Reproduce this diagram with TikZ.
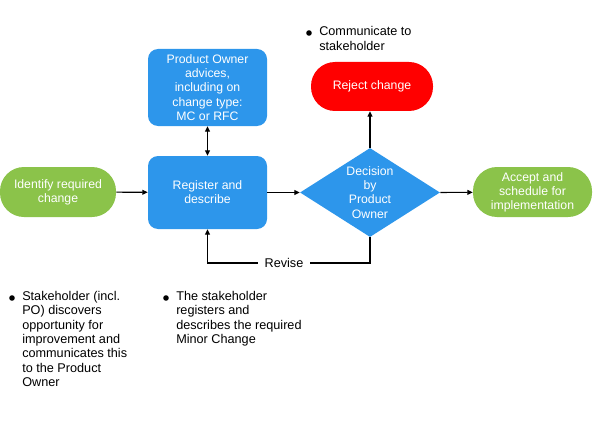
\documentclass[tikz,border=0pt]{standalone}
\usepackage{fontspec}
\setmainfont{Liberation Sans}
\usetikzlibrary{shapes.geometric,arrows.meta}
\definecolor{boxblue}{RGB}{45,150,235}
\definecolor{boxgreen}{RGB}{139,195,74}
\definecolor{boxred}{RGB}{255,0,0}
\tikzset{
  base/.style={text=white, font=\fontsize{9.2}{10.6}\selectfont, align=center, inner sep=0pt},
  bluebox/.style={base, fill=boxblue, rounded corners=7.5pt, minimum width=89.25pt},
  stadium/.style={base, rounded corners=18pt, minimum height=37.5pt},
  greenst/.style={stadium, fill=boxgreen},
  redst/.style={stadium, fill=boxred},
  dec/.style={diamond, fill=boxblue, inner sep=0pt, minimum width=105pt, minimum height=66.75pt},
  note/.style={font=\fontsize{9.5}{10.75}\selectfont, align=left, anchor=north west, inner sep=0pt, text=black},
  conn/.style={line width=0.8pt, -{Triangle[length=4pt,width=3.6pt]}},
  plain/.style={line width=0.8pt},
}
\begin{document}
\begin{tikzpicture}[x=0.75pt,y=-0.75pt]
\useasboundingbox (0,0) rectangle (605,424);
\node[greenst, minimum width=87pt] (ident) at (58,192) {Identify required\\change};
\node[bluebox, minimum height=54.75pt] (reg) at (207.5,192.5) {Register and\\describe};
\node[bluebox, minimum height=57.75pt] (po) at (207.5,87.5) {Product Owner\\advices,\\including on\\change type:\\MC or RFC};
\node[dec] (dec) at (370,192.5) {};
\node[base] (dectext) at (dec) {Decision\\by\\Product\\Owner};
\node[redst, minimum width=91.5pt, minimum height=36.75pt] (rej) at (372,86.5) {Reject change};
\node[greenst, minimum width=89.25pt] (acc) at (532.5,192) {Accept and\\schedule for\\implementation};
\node[note, anchor=center, inner xsep=5pt] (rev) at (284,263) {Revise};

\draw[conn] (ident) -- (reg);
\draw[conn] (reg) -- (dec.west);
\draw[conn] (dec.east) -- (acc);
\draw[conn] (dec.north) -- (dec.north |- rej.south);
\draw[line width=0.8pt, {Triangle[length=4pt,width=3.6pt]}-{Triangle[length=4pt,width=3.6pt]}] (po.south) -- (reg.north);
\draw[plain] (dec.south) |- (rev.east);
\draw[conn] (rev.west) -| (reg.south);

\fill (309,33) circle (2.1pt);
\node[note] (comm) at (319,26.5) {Communicate to\\stakeholder};
\fill (12,298) circle (2.1pt);
\node[note] (stake) at (22,291) {Stakeholder (incl.\\PO) discovers\\opportunity for\\improvement and\\communicates this\\to the Product\\Owner};
\fill (166,298) circle (2.1pt);
\node[note] (regnote) at (176,291) {The stakeholder\\registers and\\describes the required\\Minor Change};
\end{tikzpicture}
\end{document}
